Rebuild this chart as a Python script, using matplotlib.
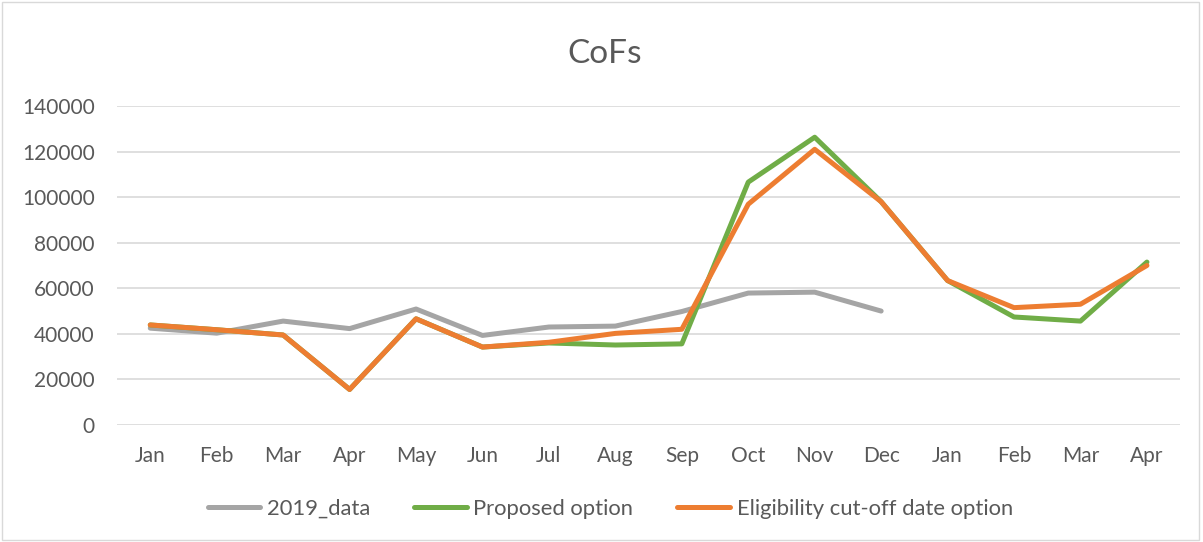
import matplotlib.pyplot as plt
from matplotlib.patches import Rectangle

plt.rcParams["font.family"] = ["Lato", "DejaVu Sans"]

months = ["Jan", "Feb", "Mar", "Apr", "May", "Jun", "Jul", "Aug", "Sep",
          "Oct", "Nov", "Dec", "Jan", "Feb", "Mar", "Apr"]

data_2019 = [42500, 40300, 45600, 42300, 50900, 39300, 43000, 43400, 49800,
             57900, 58300, 50000]
proposed = [43900, 41800, 39500, 15600, 46600, 34200, 36000, 35100, 35600,
            106600, 126300, 98000, 63400, 47400, 45600, 71500]
cutoff = [43900, 41800, 39500, 15600, 46600, 34200, 36300, 40200, 42000,
          96900, 121000, 98000, 63400, 51500, 53000, 70000]

fig = plt.figure(figsize=(12.03, 5.42), dpi=100)
ax = fig.add_axes([0.0973, 0.2159, 0.8837, 0.5885])

x = list(range(len(months)))
lw = 3.6
ax.plot(x[:len(data_2019)], data_2019, color="#A5A5A5", lw=lw,
        solid_capstyle="round", solid_joinstyle="round", label="2019_data")
ax.plot(x, proposed, color="#70AD47", lw=lw,
        solid_capstyle="round", solid_joinstyle="round", label="Proposed option")
ax.plot(x, cutoff, color="#ED7D31", lw=lw,
        solid_capstyle="round", solid_joinstyle="round",
        label="Eligibility cut-off date option")

ax.set_xlim(-0.5, 15.5)
ax.set_ylim(0, 140000)
ax.set_yticks(range(0, 140001, 20000))
ax.set_xticks(x)
ax.set_xticklabels(months)
ax.grid(axis="y", color="#D9D9D9", lw=1.2)
ax.set_axisbelow(True)
for s in ax.spines.values():
    s.set_visible(False)
ax.tick_params(length=0, labelsize=15, labelcolor="#595959")
ax.tick_params(axis="x", pad=15)
ax.tick_params(axis="y", pad=16)

fig.text(0.503, 0.9, "CoFs", ha="center", va="center", fontsize=24,
         color="#595959")

ax.legend(loc="center", bbox_to_anchor=(0.464, -0.262), ncol=3, frameon=False,
          fontsize=15.8, labelcolor="#595959", handlelength=2.4,
          columnspacing=2.0, handletextpad=0.3)

fig.add_artist(Rectangle((0.002, 0.004), 0.995, 0.992, transform=fig.transFigure,
                         fill=False, edgecolor="#D9D9D9", lw=1))

fig.savefig("out.png", dpi=100)
